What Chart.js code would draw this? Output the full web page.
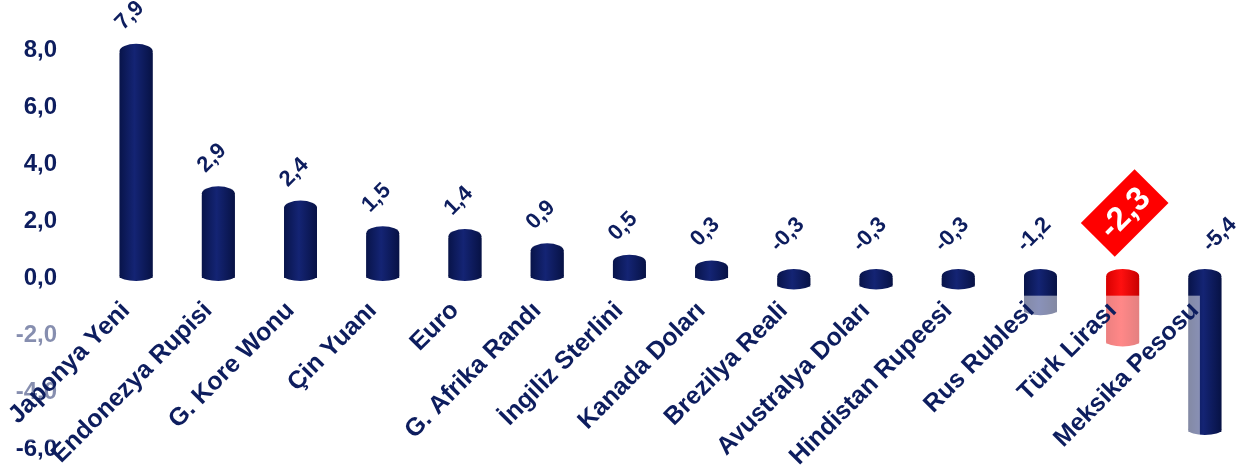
<!DOCTYPE html>
<html>
<head>
<meta charset="utf-8">
<script src="https://cdn.jsdelivr.net/npm/chart.js@4/dist/chart.umd.min.js"></script>
<style>
    html, body { margin: 0; padding: 0; background: #fff; }
    #wrap { width: 1246px; height: 470px; }
</style>
</head>
<body>
<div id="wrap"><canvas id="currencyChart"></canvas></div>
<script>
// Kur değişimleri (%)
var currencies = ['Japonya Yeni', 'Endonezya Rupisi', 'G. Kore Wonu', 'Çin Yuanı', 'Euro',
    'G. Afrika Randı', 'İngiliz Sterlini', 'Kanada Doları', 'Brezilya Reali', 'Avustralya Doları',
    'Hindistan Rupeesi', 'Rus Rublesi', 'Türk Lirası', 'Meksika Pesosu'];
var changes = [7.9, 2.9, 2.4, 1.5, 1.4, 0.9, 0.5, 0.3, -0.3, -0.3, -0.3, -1.2, -2.3, -5.4];
var highlighted = 'Türk Lirası';
var yMin = -6;
var yMax = 8;
var yStep = 2;

var navy = '#0d1d5e';

function fmt(v) {
    return v.toFixed(1).replace('.', ',');
}

function shade(chartCtx, cx, half, isRed) {
    var g = chartCtx.createLinearGradient(cx - half, 0, cx + half, 0);
    if (isRed) {
        g.addColorStop(0, '#d80000');
        g.addColorStop(0.45, '#ff1010');
        g.addColorStop(1, '#c80000');
    } else {
        g.addColorStop(0, '#08144a');
        g.addColorStop(0.45, '#142474');
        g.addColorStop(1, '#071245');
    }
    return g;
}

// cylinder-ish shading for each bar
function barFill(context) {
    var chart = context.chart;
    var xs = chart.scales.x;
    var isRed = currencies[context.dataIndex] === highlighted;
    var flat = isRed ? '#ff0000' : navy;
    if (!xs || context.dataIndex === undefined) return flat;
    var cx = xs.getPixelForValue(context.dataIndex);
    var half = xs.width / currencies.length * 0.2;
    if (!isFinite(cx) || !isFinite(half) || half <= 0) return flat;
    return shade(chart.ctx, cx, half, isRed);
}

// round ends so the bars read as cylinders
var cylinderCaps = {
    id: 'cylinderCaps',
    beforeDatasetsDraw: function(chart) {
        var ctx = chart.ctx;
        chart.getDatasetMeta(0).data.forEach(function(bar, i) {
            var p = bar.getProps(['x', 'y', 'base', 'width']);
            var half = p.width / 2;
            var isRed = currencies[i] === highlighted;
            var top = Math.min(p.y, p.base);
            var bottom = Math.max(p.y, p.base);
            ctx.save();
            ctx.fillStyle = shade(ctx, p.x, half, isRed);
            ctx.beginPath();
            ctx.ellipse(p.x, top - 2, half, 7, 0, 0, Math.PI * 2);
            ctx.fill();
            ctx.fillRect(p.x - half, top - 2, p.width, bottom - top);
            ctx.beginPath();
            ctx.ellipse(p.x, bottom - 2, half, 5, 0, 0, Math.PI * 2);
            ctx.fill();
            ctx.restore();
        });
    }
};

// pale box that sits over the lower part of the plot
var paleBox = {
    id: 'paleBox',
    afterDatasetsDraw: function(chart) {
        var ctx = chart.ctx;
        var xs = chart.scales.x, ys = chart.scales.y;
        var top = ys.getPixelForValue(-0.62);
        var bottom = ys.getPixelForValue(-5.7);
        var right = xs.getPixelForValue(currencies.length - 1) - 5;
        ctx.save();
        ctx.fillStyle = 'rgba(255,255,255,0.5)';
        ctx.fillRect(0, top, right, bottom - top);
        ctx.restore();
    }
};

// rotated value labels above the bars
var valueLabels = {
    id: 'valueLabels',
    afterDatasetsDraw: function(chart) {
        var ctx = chart.ctx;
        var meta = chart.getDatasetMeta(0);
        var zero = chart.scales.y.getPixelForValue(0);
        meta.data.forEach(function(bar, i) {
            var top = Math.min(bar.y, zero);
            var isRed = currencies[i] === highlighted;
            var x = isRed ? bar.x + 2 : bar.x - 7;
            var y = top - (isRed ? 65 : (changes[i] < 0 ? 44 : 38));
            if (i === currencies.length - 1) x = bar.x + 14;
            ctx.save();
            ctx.translate(x, y);
            ctx.rotate(-Math.PI / 4);
            ctx.textAlign = 'center';
            ctx.textBaseline = 'middle';
            if (isRed) {
                ctx.fillStyle = '#ff0000';
                ctx.fillRect(-38, -24, 76, 48);
                ctx.font = 'bold 33px "Liberation Sans", Arial, sans-serif';
                ctx.fillStyle = '#ffffff';
            } else {
                ctx.font = 'bold 22px "Liberation Sans", Arial, sans-serif';
                ctx.fillStyle = navy;
            }
            ctx.fillText(fmt(changes[i]), 0, 1);
            ctx.restore();
        });
    }
};

var ctx = document.getElementById('currencyChart').getContext('2d');
var currencyChart = new Chart(ctx, {
    type: 'bar',
    data: {
        labels: currencies,
        datasets: [{
            label: 'Değişim (%)',
            data: changes,
            backgroundColor: barFill,
            borderWidth: 0,
            barPercentage: 0.4,
            categoryPercentage: 1.0
        }]
    },
    options: {
        responsive: true,
        maintainAspectRatio: false,
        animation: false,
        layout: {
            padding: { top: 50, bottom: 21, left: 0, right: 0 }
        },
        plugins: {
            legend: { display: false },
            tooltip: { enabled: false }
        },
        scales: {
            x: {
                position: { y: 0 },
                afterFit: function(scale) { scale.height = 0; },
                grid: { display: false, drawTicks: false },
                border: { display: false },
                ticks: {
                    z: 1,
                    autoSkip: false,
                    minRotation: 45,
                    maxRotation: 45,
                    padding: 18,
                    labelOffset: -10,
                    color: navy,
                    font: { family: '"Liberation Sans", Arial, sans-serif', size: 25, weight: 'bold' }
                }
            },
            y: {
                min: yMin,
                max: yMax,
                afterFit: function(scale) {
                    scale.width = 95;
                    scale.paddingTop = 0;
                    scale.paddingBottom = 0;
                },
                grid: { display: false, drawTicks: false },
                border: { display: false },
                ticks: {
                    stepSize: yStep,
                    padding: 38,
                    color: navy,
                    font: { family: '"Liberation Sans", Arial, sans-serif', size: 24, weight: 'bold' },
                    callback: function(v) { return fmt(v); }
                }
            }
        }
    },
    plugins: [cylinderCaps, paleBox, valueLabels]
});
</script>
</body>
</html>
